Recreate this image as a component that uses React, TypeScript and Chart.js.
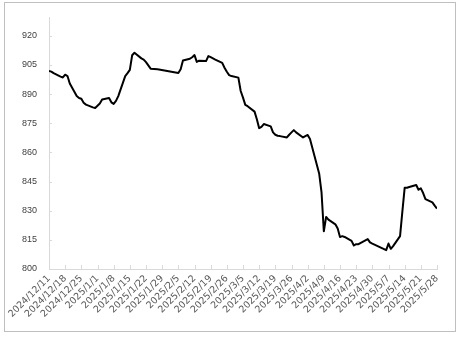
import React, { useEffect, useRef } from "react";
import { Chart, registerables } from "chart.js";

Chart.register(...registerables);

const dates: string[] = [
  "2024/12/11","2024/12/12","2024/12/13","2024/12/16","2024/12/17","2024/12/18","2024/12/19","2024/12/20",
  "2024/12/23","2024/12/24","2024/12/25","2024/12/26","2024/12/27","2024/12/30","2024/12/31",
  "2025/1/2","2025/1/3","2025/1/6","2025/1/7","2025/1/8","2025/1/9","2025/1/10",
  "2025/1/13","2025/1/14","2025/1/15","2025/1/16","2025/1/17","2025/1/20","2025/1/21","2025/1/22","2025/1/23","2025/1/24",
  "2025/1/27","2025/2/5","2025/2/6","2025/2/7","2025/2/10","2025/2/11","2025/2/12","2025/2/13","2025/2/14",
  "2025/2/17","2025/2/18","2025/2/19","2025/2/20","2025/2/21","2025/2/24","2025/2/25","2025/2/26","2025/2/27","2025/2/28",
  "2025/3/3","2025/3/4","2025/3/5","2025/3/6","2025/3/7","2025/3/10","2025/3/11","2025/3/12","2025/3/13","2025/3/14",
  "2025/3/17","2025/3/18","2025/3/19","2025/3/20","2025/3/21","2025/3/24","2025/3/25","2025/3/26","2025/3/27","2025/3/28",
  "2025/3/31","2025/4/1","2025/4/2","2025/4/3","2025/4/7","2025/4/8","2025/4/9","2025/4/10","2025/4/11",
  "2025/4/14","2025/4/15","2025/4/16","2025/4/17","2025/4/18","2025/4/21","2025/4/22","2025/4/23","2025/4/24","2025/4/25",
  "2025/4/28","2025/4/29","2025/4/30","2025/5/6","2025/5/7","2025/5/8","2025/5/9",
  "2025/5/12","2025/5/13","2025/5/14","2025/5/15","2025/5/16","2025/5/19","2025/5/20","2025/5/21","2025/5/22","2025/5/23",
  "2025/5/26","2025/5/27","2025/5/28",
];

const values: number[] = [
  902.0, 901.6, 900.8, 899.0, 898.6, 900.0, 899.3, 895.5,
  889.0, 888.0, 887.6, 885.6, 884.6, 883.2, 882.9,
  885.2, 887.2, 888.0, 885.8, 885.0, 886.5, 889.0,
  899.3, 900.8, 902.5, 910.0, 911.3, 908.4, 907.8, 906.5, 904.8, 903.1,
  902.8, 900.9, 902.8, 907.3, 908.2, 909.0, 910.1, 906.6, 907.2,
  907.0, 909.6, 909.0, 908.4, 907.8, 906.1, 903.6, 901.5, 899.8, 899.3,
  898.5, 891.6, 888.2, 884.5, 883.8, 881.0, 877.1, 872.5, 873.2, 874.6,
  873.4, 870.3, 869.1, 868.6, 868.4, 867.7, 869.1, 870.3, 871.5, 870.3,
  867.7, 868.4, 869.0, 866.9, 849.0, 839.5, 819.4, 826.8, 825.4,
  823.0, 820.8, 816.5, 816.9, 816.5, 814.5, 812.1, 812.8, 812.8, 813.5,
  815.4, 813.7, 813.1, 809.7, 813.1, 810.4, 811.8,
  816.9, 829.5, 841.8, 841.8, 842.2, 843.2, 840.8, 841.5, 839.1, 836.0,
  834.3, 832.6, 831.1,
];

const tickLabels: string[] = [
  "2024/12/11","2024/12/18","2024/12/25","2025/1/1","2025/1/8","2025/1/15","2025/1/22","2025/1/29",
  "2025/2/5","2025/2/12","2025/2/19","2025/2/26","2025/3/5","2025/3/12","2025/3/19","2025/3/26",
  "2025/4/2","2025/4/9","2025/4/16","2025/4/23","2025/4/30","2025/5/7","2025/5/14","2025/5/21","2025/5/28",
];

const yTicks: number[] = [800, 815, 830, 845, 860, 875, 890, 905, 920];

function dayNum(s: string): number {
  const [y, m, d] = s.split("/").map(Number);
  return Date.UTC(y, m - 1, d) / 86400000;
}

const origin = dayNum(dates[0]);

export default function App() {
  const ref = useRef<HTMLCanvasElement | null>(null);

  useEffect(() => {
    if (!ref.current) return;
    const pts = dates.map((d, i) => ({ x: dayNum(d) - origin, y: values[i] }));
    const tickDays = tickLabels.map((t) => dayNum(t) - origin);
    const axisColor = "#d9d9d9";
    const yFont = { family: "'Liberation Sans', Arial, sans-serif", size: 9 };
    const xFont = { family: "'DejaVu Sans', sans-serif", size: 9.5 };

    const innerTicks = {
      id: "innerTicks",
      beforeDatasetsDraw(chart: any) {
        const { ctx, chartArea } = chart;
        const xs = chart.scales.x;
        const ys = chart.scales.y;
        ctx.save();
        ctx.strokeStyle = axisColor;
        ctx.lineWidth = 1;
        ctx.beginPath();
        xs.ticks.forEach((t: any) => {
          const px = Math.round(xs.getPixelForValue(t.value)) + 0.5;
          ctx.moveTo(px, chartArea.bottom);
          ctx.lineTo(px, chartArea.bottom - 4);
        });
        ys.ticks.forEach((t: any) => {
          const py = Math.round(ys.getPixelForValue(t.value)) + 0.5;
          ctx.moveTo(chartArea.left, py);
          ctx.lineTo(chartArea.left + 3, py);
        });
        ctx.stroke();
        ctx.restore();
      },
    };

    const chart = new Chart(ref.current, {
      type: "line",
      data: {
        datasets: [
          {
            data: pts,
            borderColor: "#000000",
            borderWidth: 2,
            pointRadius: 0,
            tension: 0,
            borderJoinStyle: "round",
            fill: false,
          },
        ],
      },
      options: {
        animation: false,
        responsive: false,
        devicePixelRatio: 1,
        layout: { padding: { left: 0, top: 16, right: 26, bottom: 0 } },
        plugins: { legend: { display: false }, tooltip: { enabled: false } },
        scales: {
          x: {
            type: "linear",
            min: 0,
            max: tickDays[tickDays.length - 1],
            afterBuildTicks: (scale: any) => {
              scale.ticks = tickDays.map((v) => ({ value: v }));
            },
            afterFit: (scale: any) => {
              scale.height = 72;
            },
            grid: { drawOnChartArea: false, drawTicks: false },
            border: { display: true, color: axisColor, width: 1 },
            ticks: {
              autoSkip: false,
              maxRotation: 45,
              minRotation: 45,
              padding: 4,
              color: "#595959",
              font: xFont,
              callback: (_v: any, i: number) => tickLabels[i],
            },
          },
          y: {
            type: "linear",
            min: 800,
            max: 929.5,
            afterBuildTicks: (scale: any) => {
              scale.ticks = yTicks.map((v) => ({ value: v }));
            },
            afterFit: (scale: any) => {
              scale.width = 49;
            },
            grid: { drawOnChartArea: false, drawTicks: false },
            border: { display: true, color: axisColor, width: 1 },
            ticks: {
              padding: 12,
              color: "#404040",
              font: yFont,
              callback: (v: any) => String(v),
            },
          },
        },
      },
      plugins: [innerTicks],
    });
    return () => chart.destroy();
  }, []);

  return (
    <div style={{ position: "fixed", left: 0, top: 0, width: 463, height: 341, background: "#ffffff" }}>
      <div
        style={{
          position: "absolute",
          left: 4,
          top: 2,
          width: 452,
          height: 330,
          boxSizing: "border-box",
          border: "1px solid #bfbfbf",
        }}
      />
      <canvas ref={ref} width={463} height={341} style={{ position: "absolute", left: 0, top: 0 }} />
    </div>
  );
}
